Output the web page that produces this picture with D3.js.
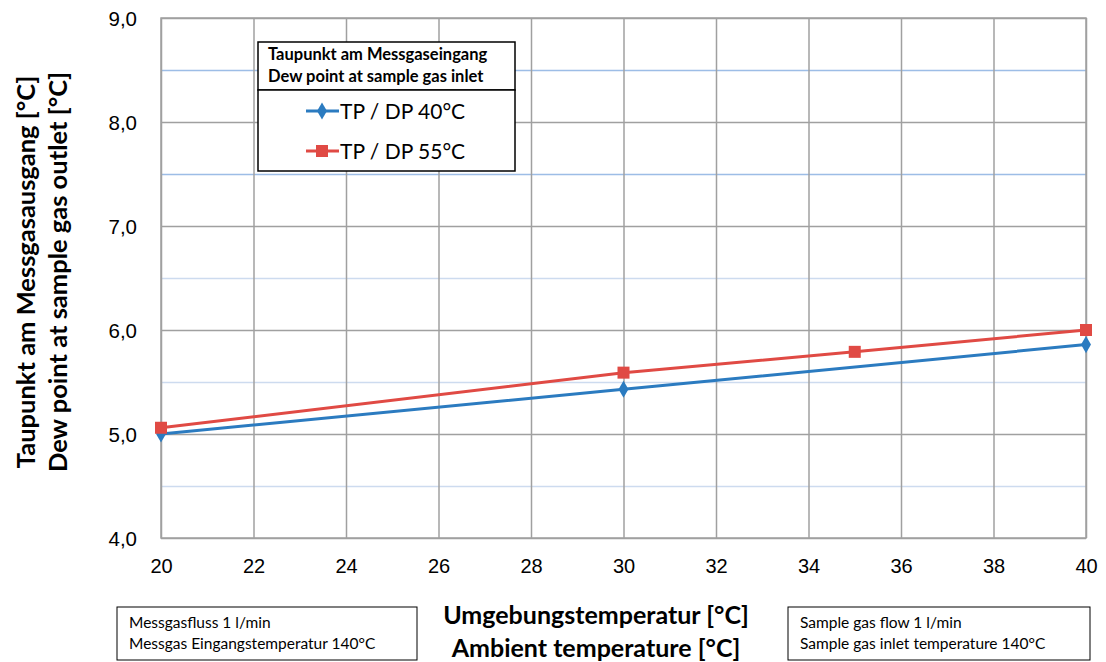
<!DOCTYPE html>
<html>
<head>
<meta charset="utf-8">
<script src="https://cdn.jsdelivr.net/npm/d3@7"></script>
<style>
  body { margin: 0; background: #fff; }
  svg { font-family: Lato, "Open Sans", sans-serif; }
</style>
</head>
<body>
<svg id="chart" width="1106" height="662"></svg>
<script>
// data
var ambient40 = [20, 30, 40]
var dewpoint40 = [5.0, 5.43, 5.86]
var ambient55 = [20, 30, 35, 40]
var dewpoint55 = [5.06, 5.59, 5.79, 6.0]
var seriesNames = ['TP / DP 40°C', 'TP / DP 55°C']
var xTicks = [20, 22, 24, 26, 28, 30, 32, 34, 36, 38, 40]
var yTicks = [4, 5, 6, 7, 8, 9]
var yMinorTicks = [4.5, 5.5, 6.5, 7.5, 8.5]
var legendTitle = ['Taupunkt am Messgaseingang', 'Dew point at sample gas inlet']
var xTitle = ['Umgebungstemperatur [°C]', 'Ambient temperature [°C]']
var yTitle = ['Taupunkt  am Messgasausgang [°C]', 'Dew point at sample gas outlet [°C]']
var noteLeft = ['Messgasfluss 1 l/min', 'Messgas Eingangstemperatur 140°C']
var noteRight = ['Sample gas flow 1 l/min', 'Sample gas inlet temperature 140°C']

var svg = d3.select('#chart')
var pLeft = 161, pRight = 1086, pTop = 18, pBottom = 538
var w = pRight - pLeft, h = pBottom - pTop

var x = d3.scaleLinear().domain([20, 40]).range([pLeft, pRight])
var y = d3.scaleLinear().domain([4, 9]).range([pBottom, pTop])
var fmt = d3.formatLocale({decimal: ',', thousands: '.', grouping: [3], currency: ['', '€']}).format('.1f')

// minor horizontal grid (light blue)
svg.append('g').selectAll('line').data(yMinorTicks).enter().append('line')
	.attr('x1', pLeft).attr('x2', pRight)
	.attr('y1', function(d){ return Math.round(y(d)) + 0.5 })
	.attr('y2', function(d){ return Math.round(y(d)) + 0.5 })
	.attr('stroke', function(d){ return d > 7 ? '#9dbde6' : '#cddbef' })
	.attr('stroke-width', 1.3)

// major grid via axes
var gx = svg.append('g').attr('transform', 'translate(0,' + pBottom + ')')
	.call(d3.axisBottom(x).tickValues(xTicks).tickSize(-h).tickPadding(21).tickFormat(d3.format('d')))
gx.select('.domain').remove()
gx.selectAll('line').attr('stroke', '#a0a0a0').attr('stroke-width', 1.5)
gx.selectAll('text').attr('font-size', 20).attr('fill', '#000')

var gy = svg.append('g').attr('transform', 'translate(' + pLeft + ',0)')
	.call(d3.axisLeft(y).tickValues(yTicks).tickSize(-w).tickPadding(24).tickFormat(fmt))
gy.select('.domain').remove()
gy.selectAll('line').attr('stroke', '#a0a0a0').attr('stroke-width', 1.5)
gy.selectAll('text').attr('font-size', 20.5).attr('fill', '#000').attr('dy', '0.35em')

svg.append('rect').attr('x', pLeft).attr('y', pTop).attr('width', w).attr('height', h)
	.attr('fill', 'none').attr('stroke', '#a0a0a0').attr('stroke-width', 1.5)

// series
var line = d3.line().x(function(d){ return x(d[0]) }).y(function(d){ return y(d[1]) })
var blue = '#2b7bc0', red = '#e04a44'
var s40 = d3.zip(ambient40, dewpoint40)
var s55 = d3.zip(ambient55, dewpoint55)

svg.append('path').datum(s40).attr('d', line).attr('fill', 'none').attr('stroke', blue).attr('stroke-width', 3)
svg.append('path').datum(s55).attr('d', line).attr('fill', 'none').attr('stroke', red).attr('stroke-width', 3)

svg.append('g').selectAll('path').data(s40).enter().append('path')
	.attr('d', d3.symbol().type(d3.symbolDiamond).size(85))
	.attr('transform', function(d){ return 'translate(' + x(d[0]) + ',' + y(d[1]) + ')' })
	.attr('fill', blue)
svg.append('g').selectAll('rect').data(s55).enter().append('rect')
	.attr('x', function(d){ return x(d[0]) - 6 }).attr('y', function(d){ return y(d[1]) - 6 })
	.attr('width', 12).attr('height', 12).attr('fill', red)

// legend
var lg = svg.append('g')
lg.append('rect').attr('x', 258).attr('y', 42).attr('width', 257).attr('height', 48)
	.attr('fill', '#fff').attr('stroke', '#000').attr('stroke-width', 1.5)
lg.append('rect').attr('x', 258).attr('y', 90).attr('width', 257).attr('height', 81)
	.attr('fill', '#fff').attr('stroke', '#000').attr('stroke-width', 1.5)
lg.selectAll('text.t').data(legendTitle).enter().append('text').attr('class', 't')
	.attr('x', 268).attr('y', function(d, i){ return 60 + i * 22 })
	.attr('font-size', 16.5).attr('font-weight', 'bold').text(function(d){ return d })
var colors = [blue, red]
seriesNames.forEach(function(name, i){
	var yy = 111 + i * 40
	lg.append('line').attr('x1', 306).attr('x2', 339).attr('y1', yy).attr('y2', yy)
		.attr('stroke', colors[i]).attr('stroke-width', 3)
	if(i === 0){
		lg.append('path').attr('d', d3.symbol().type(d3.symbolDiamond).size(85))
			.attr('transform', 'translate(322,' + yy + ')').attr('fill', blue)
	} else {
		lg.append('rect').attr('x', 316).attr('y', yy - 6).attr('width', 12).attr('height', 12).attr('fill', red)
	}
	lg.append('text').attr('x', 340).attr('y', yy).attr('dy', '0.36em')
		.attr('font-size', 21).text(name)
})

// axis titles
svg.selectAll('text.xt').data(xTitle).enter().append('text').attr('class', 'xt')
	.attr('x', 596).attr('y', function(d, i){ return 624 + i * 33 })
	.attr('text-anchor', 'middle').attr('font-size', 25).attr('font-weight', 'bold')
	.text(function(d){ return d })

svg.selectAll('text.yt').data(yTitle).enter().append('text').attr('class', 'yt')
	.attr('transform', function(d, i){ return 'translate(' + (35 + i * 32) + ',272) rotate(-90)' })
	.attr('text-anchor', 'middle').attr('font-size', 25.5).attr('font-weight', 'bold')
	.text(function(d){ return d })

// note boxes
function note(lines, bx, bw){
	var g = svg.append('g')
	g.append('rect').attr('x', bx).attr('y', 607).attr('width', bw).attr('height', 53)
		.attr('fill', '#fff').attr('stroke', '#000').attr('stroke-width', 1)
	g.selectAll('text').data(lines).enter().append('text')
		.attr('x', bx + 12).attr('y', function(d, i){ return 628 + i * 21 })
		.attr('font-size', 15.5).text(function(d){ return d })
}
note(noteLeft, 117, 300)
note(noteRight, 788, 302)
</script>
</body>
</html>
